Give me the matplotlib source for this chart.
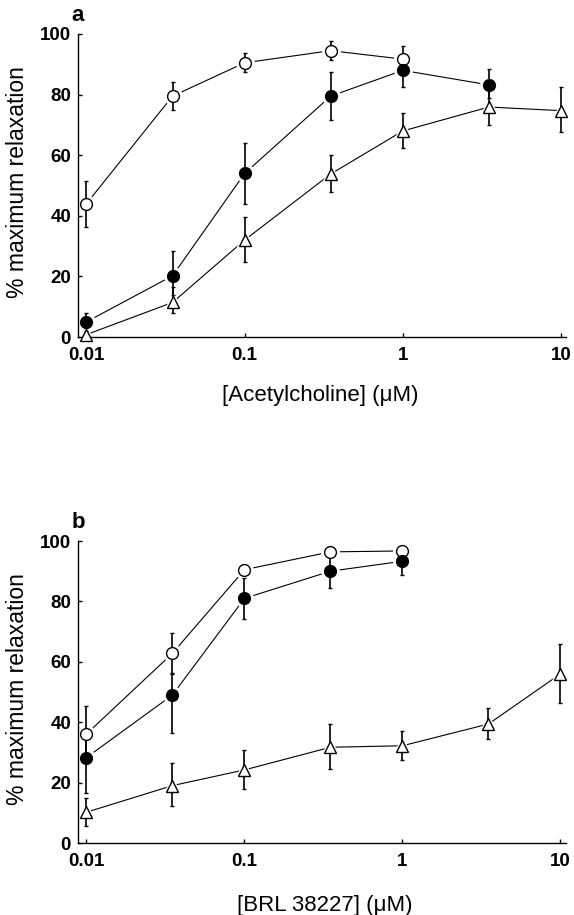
import matplotlib
matplotlib.use('Agg')
import matplotlib.pyplot as plt
from matplotlib.ticker import FixedLocator, NullLocator

plt.rcParams['font.family'] = ['Liberation Sans', 'DejaVu Sans']

# concentrations (uM)
conc = [0.01, 0.035, 0.1, 0.35, 1, 3.5, 10]

# panel a: acetylcholine
ach_open = [44, 79.5, 90.5, 94.5, 91.7]
ach_open_hi = [51.5, 84, 93.7, 97.6, 96]
ach_open_lo = [36.2, 75, 87.5, 91.5, 88]
ach_fill = [5, 20.2, 54, 79.5, 88, 83.2]
ach_fill_hi = [8, 28.5, 64, 87.3, 93, 88.4]
ach_fill_lo = [3, 14, 44, 71.7, 82.5, 79]
ach_tri = [0.8, 11.4, 32, 53.8, 68, 75.9, 74.7]
ach_tri_hi = [2, 16.5, 39.6, 60, 74, 82, 82.4]
ach_tri_lo = [0, 7.9, 24.8, 47.9, 62.4, 70, 67.7]

# panel b: BRL 38227
brl_open = [36.1, 62.8, 90.5, 96.4, 96.7]
brl_open_hi = [45.4, 69.4, 92, 97.5, 97.5]
brl_open_lo = [28, 56, 89, 95, 95.5]
brl_fill = [28.3, 49, 81, 90, 93.3]
brl_fill_hi = [36, 56.2, 87.6, 94.7, 97]
brl_fill_lo = [16.5, 36.3, 74.3, 84.3, 88.9]
brl_tri = [10.2, 19, 24.2, 31.7, 32.2, 39.4, 56]
brl_tri_hi = [15, 26.4, 30.8, 39.3, 37.2, 44.6, 66]
brl_tri_lo = [5.5, 12.1, 17.8, 24.4, 27.5, 34.4, 46.5]

yticks = [0, 20, 40, 60, 80, 100]
xticks = [0.01, 0.1, 1, 10]
xticklabels = ['0.01', '0.1', '1', '10']


def series(ax, y, hi, lo, marker, face, ms=8.5):
    x = conc[:len(y)]
    ax.plot(x, y, '-', color='black', lw=0.8, zorder=1, clip_on=False)
    # white halo so the joining lines stop short of the symbols
    ax.plot(x, y, marker, ls='none', ms=ms + 4, mfc='white', mec='white',
            zorder=2, clip_on=False)
    err = [[v - l for v, l in zip(y, lo)], [h - v for v, h in zip(y, hi)]]
    ax.errorbar(x, y, yerr=err, fmt='none', ecolor='black', elinewidth=1.2,
                capsize=1.6, capthick=1.0, zorder=3, clip_on=False)
    ax.plot(x, y, marker, ls='none', ms=ms, mfc=face, mec='black', mew=1.0,
            zorder=4, clip_on=False)


def style(ax, xlabel, xmax, xlab_x, xlab_y, letter):
    ax.set_xscale('log')
    ax.set_xlim(0.00884, xmax)
    ax.set_ylim(0, 100)
    ax.xaxis.set_major_locator(FixedLocator(xticks))
    ax.xaxis.set_minor_locator(NullLocator())
    ax.set_xticklabels(xticklabels)
    ax.set_yticks(yticks)
    for s in ['top', 'right']:
        ax.spines[s].set_visible(False)
    for s in ['left', 'bottom']:
        ax.spines[s].set_linewidth(1.0)
    ax.tick_params(axis='x', direction='in', length=3, width=1, pad=7.5)
    ax.tick_params(axis='y', direction='in', length=3, width=1, pad=5)
    for t in ax.get_xticklabels() + ax.get_yticklabels():
        t.set_fontweight('bold')
        t.set_fontsize(13.5)
    ax.set_xlabel(xlabel, fontsize=16)
    ax.xaxis.set_label_coords(xlab_x, xlab_y)
    ax.set_ylabel('% maximum relaxation', fontsize=16.5)
    ax.yaxis.set_label_coords(-0.1, 0.51)
    ax.text(0.0, 1.06, letter, transform=ax.transAxes, fontsize=16,
            fontweight='bold', ha='center', va='center')


fig = plt.figure(figsize=(5.74, 9.15), dpi=100)
ax1 = fig.add_axes([78 / 574, 1 - 337 / 915, 488 / 574, 303 / 915])
ax2 = fig.add_axes([78 / 574, 1 - 843 / 915, 488 / 574, 302 / 915])

series(ax1, ach_open, ach_open_hi, ach_open_lo, 'o', 'white')
series(ax1, ach_fill, ach_fill_hi, ach_fill_lo, 'o', 'black')
series(ax1, ach_tri, ach_tri_hi, ach_tri_lo, '^', 'white', ms=8.7)
style(ax1, '[Acetylcholine] (μM)', 10.75, 0.497, -0.158, 'a')

series(ax2, brl_open, brl_open_hi, brl_open_lo, 'o', 'white')
series(ax2, brl_fill, brl_fill_hi, brl_fill_lo, 'o', 'black')
series(ax2, brl_tri, brl_tri_hi, brl_tri_lo, '^', 'white', ms=8.7)
style(ax2, '[BRL 38227] (μM)', 10.84, 0.505, -0.173, 'b')

fig.savefig('out.png', dpi=100)
